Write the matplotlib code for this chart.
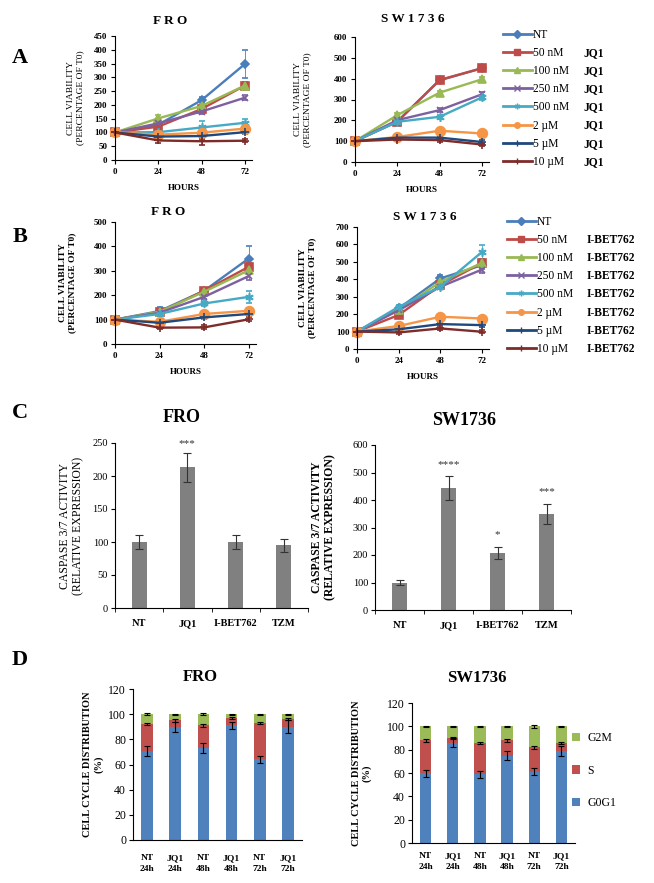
import matplotlib.pyplot as plt
import numpy as np
from matplotlib.lines import Line2D

W, H = 654, 883
plt.rcParams['font.family'] = ['Liberation Serif', 'DejaVu Serif']

# ---- data ----
hours = [0, 24, 48, 72]
doses = ["NT", "50 nM", "100 nM", "250 nM", "500 nM", "2 µM", "5 µM", "10 µM"]

# panel A, JQ1
jq1_fro = [[100, 128, 217, 348], [100, 121, 185, 270], [100, 151, 196, 270], [100, 133, 176, 226],
           [100, 101, 118, 135], [100, 92, 99, 114], [100, 85, 87, 101], [100, 71, 68, 70]]
jq1_fro_err = [[0, 10, 10, 50], [0, 10, 10, 12], [0, 12, 10, 10], [0, 8, 8, 10],
               [0, 8, 25, 15], [0, 5, 12, 8], [0, 8, 10, 8], [0, 8, 12, 5]]
jq1_sw = [[100, 195, 392, 450], [100, 193, 394, 450], [100, 225, 333, 397], [100, 201, 249, 325],
          [100, 193, 217, 310], [100, 120, 150, 137], [100, 117, 117, 96], [100, 108, 105, 84]]
jq1_sw_err = [[0, 8, 10, 15], [0, 8, 10, 15], [0, 8, 10, 12], [0, 8, 10, 12],
              [0, 8, 10, 12], [0, 6, 8, 8], [0, 6, 8, 8], [0, 6, 8, 8]]

# panel B, I-BET762
ibet_fro = [[100, 135, 218, 350], [100, 130, 218, 316], [100, 132, 214, 302], [100, 128, 193, 278],
            [100, 123, 166, 193], [100, 91, 123, 136], [100, 87, 109, 123], [100, 67, 68, 101]]
ibet_fro_err = [[0, 15, 10, 50], [0, 10, 10, 15], [0, 10, 10, 15], [0, 10, 10, 15],
                [0, 10, 10, 25], [0, 6, 8, 8], [0, 6, 8, 8], [0, 6, 8, 8]]
ibet_sw = [[100, 233, 405, 481], [100, 195, 366, 494], [100, 225, 385, 494], [100, 222, 357, 456],
           [100, 242, 357, 557], [100, 132, 185, 175], [100, 113, 143, 137], [100, 95, 118, 99]]
ibet_sw_err = [[0, 15, 20, 20], [0, 12, 15, 20], [0, 12, 15, 20], [0, 12, 15, 20],
               [0, 12, 15, 40], [0, 8, 8, 8], [0, 8, 8, 8], [0, 8, 8, 8]]

# panel C, caspase 3/7
treatments = ["NT", "JQ1", "I-BET762", "TZM"]
casp_fro = [100, 213, 100, 95]
casp_fro_err = [10, 22, 10, 10]
casp_fro_stars = ["", "***", "", ""]
casp_sw = [100, 443, 208, 350]
casp_sw_err = [10, 43, 22, 36]
casp_sw_stars = ["", "****", "*", "***"]

# panel D, cell cycle
cc_labels = ["NT\n24h", "JQ1\n24h", "NT\n48h", "JQ1\n48h", "NT\n72h", "JQ1\n72h"]
fro_g0g1 = [71, 90, 73, 91, 64, 90]
fro_s = [21, 5, 18, 6, 29, 6]
fro_g2m = [8, 5, 9, 3, 7, 4]
fro_g0g1_err = [4, 4, 4, 3, 3, 5]
fro_s_err = [1, 1, 1, 1, 1, 1]
fro_g2m_err = [1, 0.5, 1, 0.5, 0.5, 0.5]
sw_g0g1 = [60, 86, 59, 75, 61, 79]
sw_s = [28, 4, 27, 13, 21, 7]
sw_g2m = [12, 10, 14, 12, 18, 14]
sw_g0g1_err = [3, 4, 3, 4, 3, 4]
sw_s_err = [1, 1, 1, 1, 1, 1]
sw_g2m_err = [0.5, 0.5, 0.5, 0.5, 1.5, 0.5]

colors = ['#4a7ebb', '#be4b48', '#98b954', '#7d60a0', '#46aac5', '#f69546', '#1f497d', '#7e2c2a']
markers = ['D', 's', '^', 'x', (6, 2, 0), 'o', '+', '+']
msizes = [4, 6, 6, 5, 6, 7, 6, 6]

fig = plt.figure(figsize=(W / 100, H / 100), dpi=100)


def px_axes(l, t, r, b):
    return fig.add_axes([l / W, 1 - b / H, (r - l) / W, (b - t) / H])


def txt(x, y, s, **kw):
    fig.text(x / W, 1 - y / H, s, **kw)


def right_edge(ax, xpx, l, r):
    ax.yaxis.set_label_coords((xpx - l) / (r - l), 0.5)


def line_panel(box, data, errs, ymax, ystep, ylab_bold, ylab_x):
    l, t, r, b = box
    ax = px_axes(l, t, r, b)
    for i in range(len(data)):
        ax.errorbar(hours, data[i], yerr=errs[i], color=colors[i], marker=markers[i],
                    ms=msizes[i], mew=1.2, lw=1.7, elinewidth=0.6, capsize=2, clip_on=False)
    ax.set_xlim(0, 76)
    ax.set_ylim(0, ymax)
    ax.set_xticks(hours)
    ax.set_yticks(range(0, ymax + 1, ystep))
    for s in ['top', 'right']:
        ax.spines[s].set_visible(False)
    ax.tick_params(direction='out', length=3, width=0.8, labelsize=6.5, pad=2.5)
    for lab in ax.get_xticklabels() + ax.get_yticklabels():
        lab.set_fontweight('bold')
    ax.set_xlabel("HOURS", fontsize=6.5, fontweight='bold', labelpad=6)
    ax.set_ylabel("CELL VIABILITY\n(PERCENTAGE OF T0)", fontsize=6.8,
                  fontweight='bold' if ylab_bold else 'normal', linespacing=1.1)
    right_edge(ax, ylab_x, l, r)
    return ax


def dose_legend(ax, x, top, drug):
    handles = [Line2D([], [], color=colors[i], marker=markers[i], ms=4, mew=1, lw=2)
               for i in range(len(doses))]
    leg1 = ax.legend(handles, doses, loc='upper left', bbox_to_anchor=(x / W, 1 - top / H),
                     bbox_transform=fig.transFigure, frameon=False, fontsize=8.3,
                     handlelength=2.5, handletextpad=0.1, labelspacing=0.53,
                     borderpad=0, borderaxespad=0)
    ax.add_artist(leg1)
    blank = [Line2D([], [], ls='none') for _ in doses]
    ax.legend(blank, [" "] + [drug] * (len(doses) - 1), loc='upper left',
              bbox_to_anchor=(x / W + 80 / W, 1 - top / H), bbox_transform=fig.transFigure,
              frameon=False, handlelength=0, handletextpad=0, labelspacing=0.53,
              borderpad=0, borderaxespad=0, prop={'size': 8.3, 'weight': 'bold'})


# ---- A ----
line_panel((115, 36, 252, 160), jq1_fro, jq1_fro_err, 450, 50, False, 84)
axa2 = line_panel((355, 37, 489, 162), jq1_sw, jq1_sw_err, 600, 100, False, 311)
dose_legend(axa2, 503, 29, "JQ1")
txt(170, 21, "F R O", fontsize=9.5, fontweight='bold', ha='center', va='center')
txt(413, 19, "S W 1 7 3 6", fontsize=9.5, fontweight='bold', ha='center', va='center')

# ---- B ----
line_panel((115, 222, 256, 344), ibet_fro, ibet_fro_err, 500, 100, True, 76)
axb2 = line_panel((357, 227, 489, 349), ibet_sw, ibet_sw_err, 700, 100, True, 316)
dose_legend(axb2, 507, 216, "I-BET762")
txt(168, 212, "F R O", fontsize=9.5, fontweight='bold', ha='center', va='center')
txt(425, 217, "S W 1 7 3 6", fontsize=9.5, fontweight='bold', ha='center', va='center')


# ---- C ----
def casp_panel(box, vals, errs, stars, ymax, ystep, ylab_bold, ylab_x, star_off):
    l, t, r, b = box
    ax = px_axes(l, t, r, b)
    x = np.arange(len(treatments))
    ax.bar(x, vals, width=0.31, color='#808080', yerr=errs,
           error_kw=dict(ecolor='#333333', elinewidth=0.8, capsize=3, capthick=0.8))
    for i in range(len(x)):
        if stars[i]:
            ax.text(x[i], vals[i] + errs[i] + ymax * star_off, stars[i], ha='center', va='bottom',
                    fontsize=8, color='#333333')
    ax.set_xlim(-0.5, len(x) - 0.5)
    ax.set_ylim(0, ymax)
    ax.set_yticks(range(0, ymax + 1, ystep))
    ax.set_xticks(x)
    ax.set_xticklabels(treatments, fontweight='bold', fontsize=7.5, va='baseline')
    ax.set_xticks(np.arange(-0.5, len(x)), minor=True)
    ax.tick_params(axis='x', which='major', length=0, pad=13)
    ax.tick_params(axis='x', which='minor', length=3, direction='out')
    ax.tick_params(axis='y', direction='out', length=3, labelsize=7.5, pad=2)
    for s in ['top', 'right']:
        ax.spines[s].set_visible(False)
    ax.set_ylabel("CASPASE 3/7 ACTIVITY\n(RELATIVE EXPRESSION)", fontsize=8.5,
                  fontweight='bold' if ylab_bold else 'normal', linespacing=1.1)
    right_edge(ax, ylab_x, l, r)
    return ax


casp_panel((115, 443, 308, 608), casp_fro, casp_fro_err, casp_fro_stars, 250, 50, False, 84, 0.03)
casp_panel((375, 445, 571, 610), casp_sw, casp_sw_err, casp_sw_stars, 600, 100, True, 336, 0.045)
txt(182, 417, "FRO", fontsize=13, fontweight='bold', ha='center', va='center')
txt(464, 420, "SW1736", fontsize=13, fontweight='bold', ha='center', va='center')


# ---- D ----
def cc_panel(box, g0, s, g2, g0e, se, g2e, ylab_x, lab_pad):
    l, t, r, b = box
    ax = px_axes(l, t, r, b)
    x = np.arange(len(cc_labels))
    ek = dict(ecolor='black', elinewidth=0.8, capsize=2.5, capthick=0.8)
    g0 = np.array(g0)
    s = np.array(s)
    ax.bar(x, g0, width=0.42, color='#4f81bd', yerr=g0e, error_kw=ek, label='G0G1')
    ax.bar(x, s, bottom=g0, width=0.42, color='#c0504d', yerr=se, error_kw=ek, label='S')
    ax.bar(x, g2, bottom=g0 + s, width=0.42, color='#9bbb59', yerr=g2e, error_kw=ek, label='G2M')
    ax.set_xlim(-0.5, len(x) - 0.5)
    ax.set_ylim(0, 120)
    ax.set_yticks(range(0, 121, 20))
    ax.set_xticks(x)
    # baseline of a two-line label is the baseline of its last line
    ax.set_xticklabels(cc_labels, fontweight='bold', fontsize=6.8, linespacing=1.55, va='baseline')
    ax.tick_params(axis='x', length=0, pad=lab_pad)
    ax.tick_params(axis='y', direction='out', length=3, labelsize=8.5, pad=2)
    for sp in ['top', 'right']:
        ax.spines[sp].set_visible(False)
    ax.set_ylabel("CELL CYCLE DISTRIBUTION\n(%)", fontsize=7.5, fontweight='bold', linespacing=1.2)
    right_edge(ax, ylab_x, l, r)
    return ax


cc_panel((133, 689, 302, 840), fro_g0g1, fro_s, fro_g2m, fro_g0g1_err, fro_s_err, fro_g2m_err, 103, 22.5)
axd2 = cc_panel((412, 703, 575, 843), sw_g0g1, sw_s, sw_g2m, sw_g0g1_err, sw_s_err, sw_g2m_err, 372, 19)
h, lb = axd2.get_legend_handles_labels()
axd2.legend(h[::-1], lb[::-1], loc='upper left', bbox_to_anchor=(572 / W, 1 - 732 / H),
            bbox_transform=fig.transFigure, frameon=False, fontsize=8.5, handlelength=0.7,
            handleheight=0.7, handletextpad=0.6, labelspacing=1.75, borderpad=0, borderaxespad=0)
txt(200, 677, "FRO", fontsize=12, fontweight='bold', ha='center', va='center')
txt(477, 678, "SW1736", fontsize=12, fontweight='bold', ha='center', va='center')

# panel letters
for letter, y in [("A", 58), ("B", 237), ("C", 413), ("D", 660)]:
    txt(20, y, letter, fontsize=16, fontweight='bold', ha='center', va='center')

fig.savefig("out.png", dpi=100)
